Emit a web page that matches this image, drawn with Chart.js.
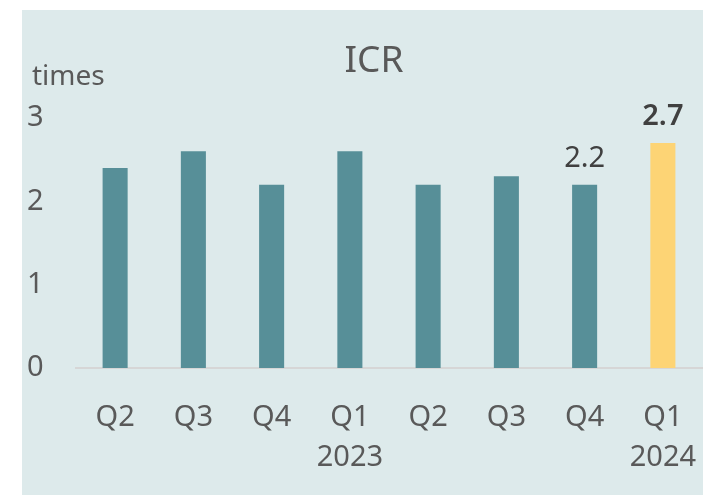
<!DOCTYPE html>
<html>
<head>
<meta charset="utf-8">
<script src="https://cdn.jsdelivr.net/npm/chart.js@4/dist/chart.umd.min.js"></script>
<style>
  html, body { margin: 0; padding: 0; background: #ffffff; }
  #wrap { width: 703px; height: 496px; position: relative; }
</style>
</head>
<body>
<div id="wrap"><canvas id="c" width="703" height="496"></canvas></div>
<script>
// ---- data ----
const categories = [["Q2"], ["Q3"], ["Q4"], ["Q1", "2023"], ["Q2"], ["Q3"], ["Q4"], ["Q1", "2024"]];
const icrValues = [2.4, 2.6, 2.2, 2.6, 2.2, 2.3, 2.2, 2.7];
const barColors = ["#578f98", "#578f98", "#578f98", "#578f98", "#578f98", "#578f98", "#578f98", "#fdd475"];
const labeledBars = [6, 7];          // bars that carry a value label
const boldLabeledBars = [7];         // value label drawn bold
const yTicks = [0, 1, 2, 3];
const chartTitle = "ICR";
const unitLabel = "times";

const FONT = "'Noto Sans', 'Open Sans', sans-serif";

const panelPlugin = {
  id: 'panel',
  beforeDraw(chart) {
    const ctx = chart.ctx;
    ctx.save();
    ctx.fillStyle = '#ffffff';
    ctx.fillRect(0, 0, chart.width, chart.height);
    ctx.fillStyle = '#ddeaeb';
    ctx.fillRect(22, 10, chart.width - 22, chart.height - 11);
    ctx.restore();
  }
};

const textPlugin = {
  id: 'texts',
  afterDraw(chart) {
    const ctx = chart.ctx;
    const area = chart.chartArea;
    ctx.save();
    // title
    ctx.fillStyle = '#595959';
    ctx.font = "37px " + FONT;
    ctx.textAlign = 'center';
    ctx.textBaseline = 'alphabetic';
    ctx.fillText(chartTitle, (area.left + area.right) / 2 - 15, 72);
    // unit label
    ctx.font = "28px " + FONT;
    ctx.textAlign = 'left';
    ctx.fillText(unitLabel, 32, 85);
    // value labels
    const meta = chart.getDatasetMeta(0);
    labeledBars.forEach(i => {
      const el = meta.data[i];
      const bold = boldLabeledBars.includes(i);
      ctx.font = (bold ? "600 " : "") + "29px " + FONT;
      ctx.fillStyle = '#404040';
      ctx.textAlign = 'center';
      ctx.textBaseline = 'alphabetic';
      ctx.fillText(icrValues[i].toFixed(1), el.x, el.y - 18);
    });
    ctx.restore();
  }
};

new Chart(document.getElementById('c'), {
  type: 'bar',
  data: {
    labels: categories,
    datasets: [{
      label: chartTitle,
      data: icrValues,
      backgroundColor: barColors,
      borderWidth: 0,
      barPercentage: 0.32,
      categoryPercentage: 1.0
    }]
  },
  options: {
    responsive: false,
    animation: false,
    devicePixelRatio: 1,
    layout: { padding: { left: 27, top: 118, right: 1, bottom: 0 } },
    plugins: {
      legend: { display: false },
      title: { display: false },
      tooltip: { enabled: false }
    },
    scales: {
      x: {
        grid: {
          display: true,
          drawOnChartArea: false,
          drawTicks: true,
          tickLength: 25,
          color: 'rgba(0,0,0,0)',
          tickColor: 'rgba(0,0,0,0)'
        },
        border: { display: true, color: '#d6d6d6', width: 2 },
        ticks: {
          color: '#595959',
          font: { family: FONT, size: 29, lineHeight: 1.4 },
          padding: 4,
          maxRotation: 0,
          autoSkip: false
        },
        afterFit(scale) { scale.height = 128; }
      },
      y: {
        min: 0,
        max: 3,
        afterBuildTicks(scale) { scale.ticks = yTicks.map(v => ({ value: v })); },
        grid: { display: false, drawTicks: false },
        border: { display: false },
        ticks: {
          color: '#595959',
          font: { family: FONT, size: 29 },
          crossAlign: 'far',
          padding: 0
        },
        afterFit(scale) { scale.width = 49; }
      }
    }
  },
  plugins: [panelPlugin, textPlugin]
});
</script>
</body>
</html>
